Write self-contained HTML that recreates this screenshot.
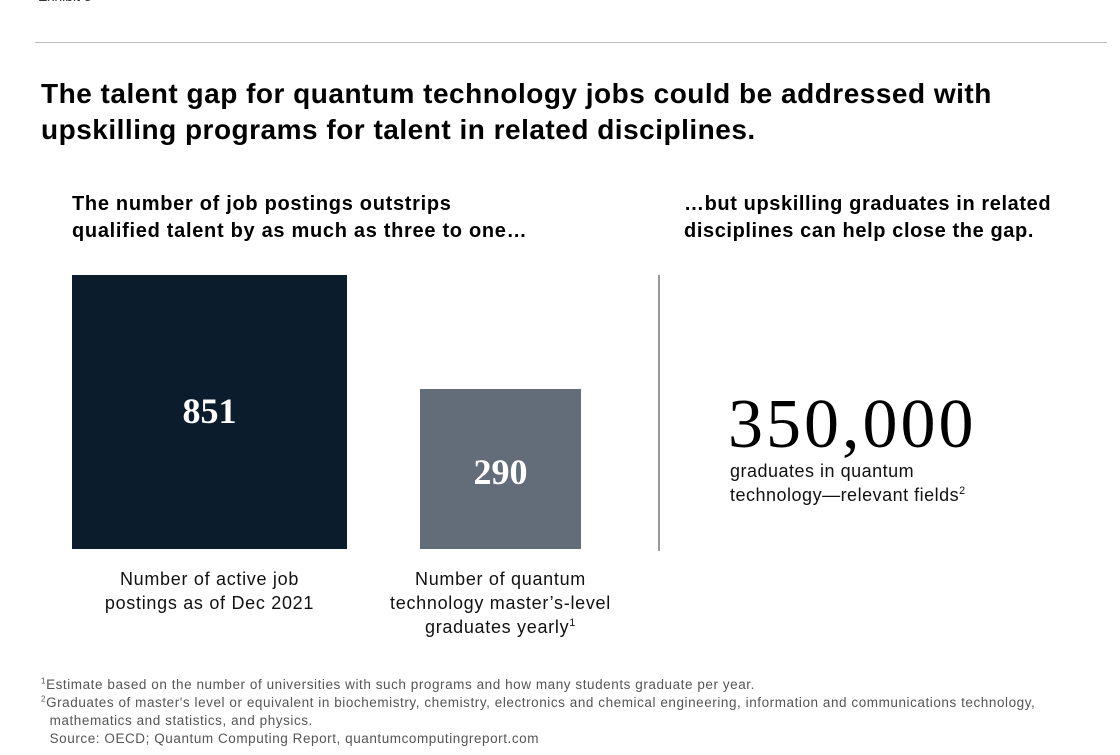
<!DOCTYPE html>
<html><head><meta charset="utf-8"><style>
body{margin:0;width:1120px;height:755px;background:#fff;position:relative;overflow:hidden;font-family:"Liberation Sans",Arial,sans-serif;color:#000}
.a{position:absolute;white-space:nowrap}
.fn{font-size:13.5px;color:#555;line-height:18px;letter-spacing:0.56px}
.lb{font-size:18px;line-height:24px;text-align:center;color:#111;letter-spacing:0.7px}
.serif{font-family:"Liberation Serif",serif;font-weight:bold;color:#fff}
sup{font-size:0.6em;line-height:0}
</style></head><body>
<div class="a" style="left:38px;top:-12px;font-size:14px;color:#333">Exhibit 3</div>
<div class="a" style="left:35px;top:42px;width:1072px;height:1px;background:#bbb"></div>
<div class="a" style="left:41px;top:76px;font-size:28px;font-weight:bold;line-height:36px;color:#000;letter-spacing:0.5px">The talent gap for quantum technology jobs could be addressed with<br>upskilling programs for talent in related disciplines.</div>
<div class="a" style="left:72px;top:191px;font-size:20px;font-weight:bold;line-height:27px;letter-spacing:0.7px">The number of job postings outstrips<br>qualified talent by as much as three to one…</div>
<div class="a" style="left:684px;top:191px;font-size:20px;font-weight:bold;line-height:27px;letter-spacing:0.6px">…but upskilling graduates in related<br>disciplines can help close the gap.</div>
<div class="a" style="left:72px;top:275px;width:275px;height:274px;background:#0b1c2c"></div>
<div class="a serif" style="left:72px;width:275px;top:390px;font-size:36px;text-align:center">851</div>
<div class="a" style="left:420px;top:389px;width:161px;height:160px;background:#636d7a"></div>
<div class="a serif" style="left:420px;width:161px;top:451px;font-size:36px;text-align:center">290</div>
<div class="a" style="left:658px;top:275px;width:2px;height:276px;background:#999"></div>
<div class="a" style="left:728px;top:385px;font-family:'Liberation Serif',serif;font-size:70px;line-height:80px;color:#000;letter-spacing:3px">350,000</div>
<div class="a" style="left:730px;top:459px;font-size:18px;line-height:24px;color:#111;letter-spacing:0.5px">graduates in quantum<br>technology—relevant fields<sup>2</sup></div>
<div class="a lb" style="left:62px;width:295px;top:567px">Number of active job<br>postings as of Dec 2021</div>
<div class="a lb" style="left:360px;width:281px;top:567px">Number of quantum<br>technology master’s-level<br>graduates yearly<sup>1</sup></div>
<div class="a fn" style="left:41px;top:676px"><sup>1</sup>Estimate based on the number of universities with such programs and how many students graduate per year.<br><sup>2</sup>Graduates of master's level or equivalent in biochemistry, chemistry, electronics and chemical engineering, information and communications technology,<br>&nbsp;&nbsp;mathematics and statistics, and physics.<br>&nbsp;&nbsp;Source: OECD; Quantum Computing Report, quantumcomputingreport.com</div>
</body></html>
